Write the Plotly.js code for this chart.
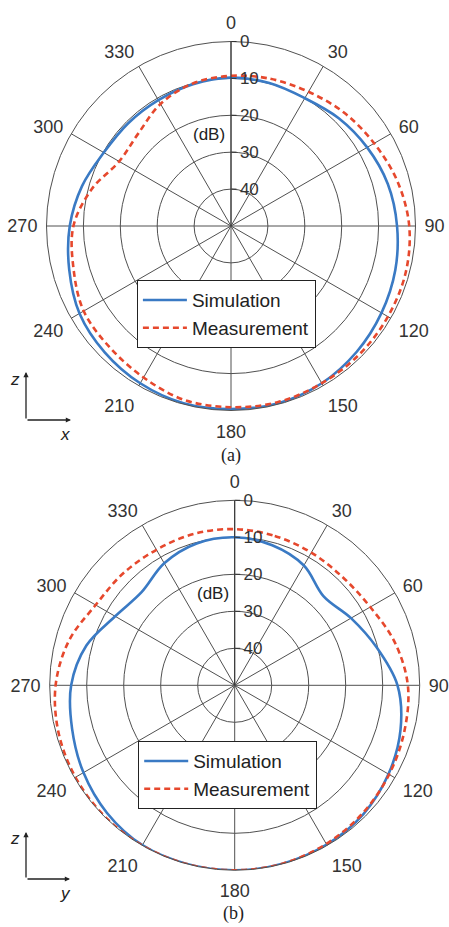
<!DOCTYPE html>
<html>
<head>
<meta charset="utf-8">
<script src="https://cdn.plot.ly/plotly-3.0.1.min.js"></script>
<style>
  html, body { margin: 0; padding: 0; background: #fff; }
  #chart { width: 449px; height: 927px; }
</style>
</head>
<body>
<div id="chart"></div>
<script>
// Angles (deg, clockwise from top)
const theta = [0,15,30,45,60,75,90,105,120,135,150,165,180,195,210,225,240,255,270,285,300,315,330,345,360];

// (a) x-z plane, normalized gain in dB
const simA  = [-9.8,-9.9,-10.0,-8.7,-7.4,-6.0,-5.0,-3.9,-2.9,-1.8,-0.8,-0.3,-0.4,-0.3,-0.8,-1.6,-2.6,-4.6,-6.3,-8.2,-10.2,-10.6,-10.6,-10.2,-9.8];
const measA = [-9.3,-8.7,-8.0,-6.6,-5.2,-3.3,-1.7,-1.0,-0.9,-0.8,-0.8,-0.6,-0.9,-1.2,-2.6,-3.5,-3.9,-5.8,-7.3,-11.0,-15.0,-14.5,-11.8,-10.0,-9.3];

// (b) y-z plane, normalized gain in dB
const simB  = [-10.0,-10.8,-12.6,-16.0,-13.7,-10.3,-6.0,-3.6,-2.0,-0.8,-0.3,-0.1,0,0,-0.1,-1.2,-2.8,-4.5,-5.8,-8.5,-12.7,-14.4,-11.9,-10.3,-10.0];
const measB = [-7.8,-8.2,-8.6,-8.7,-7.7,-5.2,-3.2,-2.5,-1.8,-1.1,-0.5,-0.1,0,0,0,-0.1,-0.3,-0.7,-1.6,-3.6,-6.6,-7.3,-7.7,-7.6,-7.8];

const seriesNames = ['Simulation', 'Measurement'];
const angTickVals = [0,30,60,90,120,150,180,210,240,270,300,330];
const angTickText = ['0','30','60','90','120','150','180','210','240','270','300','330'];
const radTickVals = [-40,-30,-20,-10,0];
const radTickText = ['40','30','20','10','0'];

const FONT = 'Liberation Sans, Arial, sans-serif';
const BLUE = 'rgb(58,122,196)';
const RED = 'rgb(230,72,45)';

function tr(r, name, color, dash, subplot, legend) {
  return {
    type: 'scatterpolar', mode: 'lines', r: r, theta: theta, name: name,
    subplot: subplot, legend: legend,
    line: {color: color, width: 2.6, dash: dash, shape: 'spline', smoothing: 1}
  };
}

const data = [
  tr(simA,  seriesNames[0], BLUE, 'solid', 'polar', 'legend'),
  tr(measA, seriesNames[1], RED, '6px,4px', 'polar', 'legend'),
  tr(simB,  seriesNames[0], BLUE, 'solid', 'polar2', 'legend2'),
  tr(measB, seriesNames[1], RED, '6px,4px', 'polar2', 'legend2')
];

function polarCfg(dx, dy) {
  return {
    domain: {x: dx, y: dy},
    bgcolor: 'rgba(0,0,0,0)',
    angularaxis: {
      rotation: 90, direction: 'clockwise',
      tickmode: 'array', tickvals: angTickVals, ticktext: angTickText,
      showgrid: true, gridcolor: '#505050', gridwidth: 0.8,
      showline: true, linecolor: '#505050', linewidth: 1,
      ticks: 'outside', ticklen: 5, tickcolor: 'rgba(0,0,0,0)',
      tickfont: {family: FONT, size: 18, color: '#333'}
    },
    radialaxis: {
      range: [-50, 0], angle: 90, side: 'clockwise', tickangle: 90,
      tickmode: 'array', tickvals: radTickVals, ticktext: radTickText,
      showline: true, linecolor: '#333', linewidth: 1,
      ticks: 'outside', ticklen: 5, tickcolor: '#333',
      showgrid: true, gridcolor: '#505050', gridwidth: 0.8,
      tickfont: {family: FONT, size: 17, color: '#333'}
    }
  };
}

function legendCfg(x, y) {
  return {
    x: x, y: y, xanchor: 'left', yanchor: 'top',
    bgcolor: 'white', bordercolor: '#222', borderwidth: 1.2,
    itemwidth: 44, entrywidth: 158, entrywidthmode: 'pixels',
    font: {family: FONT, size: 19, color: '#222'}
  };
}

function arrow(x, y, ax, ay) {
  return {xref: 'paper', yref: 'paper', x: x, y: y, ax: ax, ay: ay, text: '',
    showarrow: true, arrowhead: 2, arrowsize: 0.8, arrowwidth: 1.3, arrowcolor: '#222'};
}
function label(x, y, text, size, family) {
  return {xref: 'paper', yref: 'paper', x: x, y: y, text: text, showarrow: false,
    xanchor: 'center', yanchor: 'middle', font: {family: family || FONT, size: size, color: '#222'}};
}

const W = 449, H = 927;
const px = v => v / W, py = v => 1 - v / H;

const layout = {
  width: W, height: H,
  margin: {l: 0, r: 0, t: 0, b: 0},
  paper_bgcolor: 'white',
  showlegend: true,
  polar: polarCfg([px(46.5), px(415.5)], [py(410.5), py(41.5)]),
  polar2: polarCfg([px(49.7), px(419.7)], [py(870.3), py(500.3)]),
  legend: legendCfg(px(136.7), py(280)),
  legend2: legendCfg(px(138), py(741)),
  annotations: [
    label(px(209), py(135), '(dB)', 17),
    label(px(213), py(593), '(dB)', 17),
    label(px(231), py(455), '(a)', 18, 'Liberation Serif, Times New Roman, serif'),
    label(px(234), py(913), '(b)', 18, 'Liberation Serif, Times New Roman, serif'),
    arrow(px(26), py(372), 0, 48),
    arrow(px(71), py(420), -45, 0),
    label(px(15), py(379), '<i>z</i>', 17),
    label(px(65), py(434), '<i>x</i>', 17),
    arrow(px(26), py(832), 0, 47),
    arrow(px(70), py(879), -44, 0),
    label(px(15), py(838), '<i>z</i>', 17),
    label(px(65), py(893), '<i>y</i>', 17)
  ]
};

Plotly.newPlot('chart', data, layout, {displayModeBar: false, responsive: false});
</script>
</body>
</html>
